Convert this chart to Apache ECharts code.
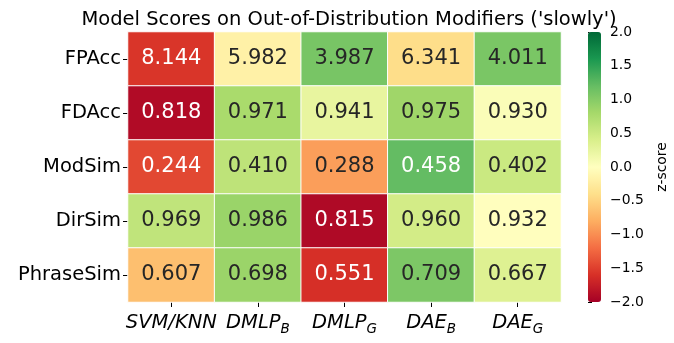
<!DOCTYPE html>
<html><head><meta charset="utf-8">
<script src="https://cdn.jsdelivr.net/npm/echarts@6/dist/echarts.min.js"></script>
<style>html,body{margin:0;padding:0;background:#fff}#c{width:674px;height:343px}</style>
</head><body><div id="c"></div>
<script>
const title = "Model Scores on Out-of-Distribution Modifiers ('slowly')";
const rows = ['FPAcc', 'FDAcc', 'ModSim', 'DirSim', 'PhraseSim'];
const cols = [['SVM/KNN', ''], ['DMLP', 'B'], ['DMLP', 'G'], ['DAE', 'B'], ['DAE', 'G']];
const fpacc = [8.144, 5.982, 3.987, 6.341, 4.011];
const fdacc = [0.818, 0.971, 0.941, 0.975, 0.930];
const modsim = [0.244, 0.410, 0.288, 0.458, 0.402];
const dirsim = [0.969, 0.986, 0.815, 0.960, 0.932];
const phrasesim = [0.607, 0.698, 0.551, 0.709, 0.667];
const lowerIsBetter = [true, false, false, false, false];
const cbTicks = [-2, -1.5, -1, -0.5, 0, 0.5, 1, 1.5, 2];
const rdylgn = ['#a50026','#d73027','#f46d43','#fdae61','#fee08b','#ffffbf','#d9ef8b','#a6d96a','#66bd63','#1a9850','#006837'];

const table = [fpacc, fdacc, modsim, dirsim, phrasesim];
function zscores(arr, flip) {
  const m = arr.reduce((a, b) => a + b, 0) / arr.length;
  const sd = Math.sqrt(arr.reduce((a, b) => a + (b - m) * (b - m), 0) / arr.length);
  return arr.map(v => (flip ? -1 : 1) * (v - m) / sd);
}
function hexToRgb(h){return [1,3,5].map(i=>parseInt(h.substr(i,2),16));}
function colorAt(z){
  let t = (Math.max(-2, Math.min(2, z)) + 2) / 4 * (rdylgn.length - 1);
  const i = Math.min(Math.floor(t), rdylgn.length - 2), f = t - i;
  const a = hexToRgb(rdylgn[i]), b = hexToRgb(rdylgn[i+1]);
  return a.map((v, k) => v + (b[k] - v) * f);
}
function lum(rgb){
  const c = rgb.map(v => { v /= 255; return v <= 0.03928 ? v / 12.92 : Math.pow((v + 0.055) / 1.055, 2.4); });
  return 0.2126*c[0] + 0.7152*c[1] + 0.0722*c[2];
}
const data = [];
table.forEach((arr, r) => {
  const z = zscores(arr, lowerIsBetter[r]);
  arr.forEach((v, c) => {
    const dark = lum(colorAt(z[c])) <= 0.408;
    data.push({ value: [c, r, z[c]], raw: v, label: { color: dark ? '#ffffff' : '#262626' } });
  });
});

const chart = echarts.init(document.getElementById('c'));
chart.setOption({
  animation: false,
  title: { text: title, left: 344, top: 5, textAlign: 'center',
    textStyle: { fontFamily: 'DejaVu Sans', fontSize: 19.5, fontWeight: 'normal', color: '#000' } },
  grid: [
    { left: 128, top: 32, width: 433, height: 270 },
    { left: 588, top: 32, width: 13, height: 270 }
  ],
  xAxis: [
    { type: 'category', gridIndex: 0, data: cols.map((c, i) => i),
      axisLine: { show: false }, splitLine: { show: false },
      axisTick: { show: true, alignWithLabel: true, length: 5, lineStyle: { color: '#000' } },
      axisLabel: { margin: 8, interval: 0, hideOverlap: false,
        formatter: (v) => { const c = cols[+v]; return c[1] ? '{i|' + c[0] + '}{s|' + c[1] + '}' : '{i|' + c[0] + '}'; },
        rich: {
          i: { fontFamily: 'DejaVu Sans', fontStyle: 'italic', fontSize: 19.5, color: '#000', lineHeight: 26, verticalAlign: 'middle' },
          s: { fontFamily: 'DejaVu Sans', fontStyle: 'italic', fontSize: 13.5, color: '#000', lineHeight: 14, verticalAlign: 'bottom' }
        } } },
    { type: 'value', gridIndex: 1, show: false, min: 0, max: 1 }
  ],
  yAxis: [
    { type: 'category', gridIndex: 0, data: rows, inverse: true,
      axisLine: { show: false }, splitLine: { show: false },
      axisTick: { show: true, alignWithLabel: true, length: 5, lineStyle: { color: '#000' } },
      axisLabel: { margin: 7, interval: 0, fontFamily: 'DejaVu Sans', fontSize: 19.5, color: '#000' } },
    { type: 'value', gridIndex: 1, position: 'right', min: cbTicks[0], max: cbTicks[cbTicks.length - 1], interval: 0.5,
      axisLine: { show: false }, splitLine: { show: false },
      axisTick: { show: true, length: 4, lineStyle: { color: '#000' } },
      axisLabel: { margin: 9, fontFamily: 'DejaVu Sans', fontSize: 13.9, color: '#000',
        formatter: v => (v < 0 ? '\u2212' : '') + Math.abs(v).toFixed(1) },
      name: 'z-score', nameLocation: 'middle', nameRotate: 90, nameGap: 54,
      nameTextStyle: { fontFamily: 'DejaVu Sans', fontSize: 13.9, color: '#000' } }
  ],
  visualMap: {
    type: 'continuous', min: -2, max: 2, dimension: 2, seriesIndex: 0,
    inRange: { color: rdylgn }, calculable: false, hoverLink: false,
    orient: 'vertical', left: 588, top: 32, padding: 0,
    itemWidth: 13, itemHeight: 270, text: null
  },
  series: [{
    type: 'heatmap', xAxisIndex: 0, yAxisIndex: 0, data: data,
    itemStyle: { borderColor: '#ffffff', borderWidth: 1 },
    label: { show: true, fontFamily: 'DejaVu Sans', fontSize: 21,
      formatter: p => p.data.raw.toFixed(3) },
    emphasis: { disabled: true }
  }]
});
</script></body></html>
